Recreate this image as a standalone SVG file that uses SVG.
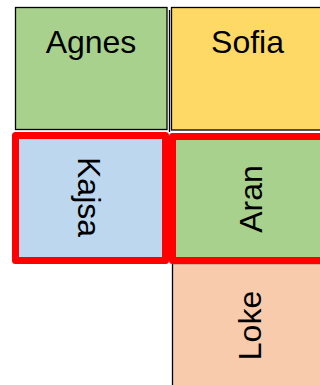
<svg xmlns="http://www.w3.org/2000/svg" width="320" height="385" viewBox="0 0 320 385">
<style>
.box{stroke:#000;stroke-width:1.3}
.sel{stroke:#ff0000;stroke-width:7;stroke-linejoin:round}
.t{font-family:"Liberation Sans",Arial,sans-serif;font-size:32px;fill:#000;text-anchor:middle}
</style>
<rect width="320" height="385" fill="#fff"/>
<g id="grid">
<line x1="169.5" y1="10" x2="169.5" y2="132" stroke="#000" stroke-width="1.3"/>
</g>
<g id="agnes">
<rect class="box" x="15.5" y="7.5" width="151.5" height="122" fill="#a9d18e"/>
<text class="t" x="91" y="53">Agnes</text>
</g>
<g id="sofia">
<rect class="box" x="171.5" y="7.5" width="160" height="122.5" fill="#ffd966"/>
<text class="t" x="247.5" y="53">Sofia</text>
</g>
<g id="loke">
<rect class="box" x="172.5" y="263.5" width="160" height="130" fill="#f8cbad"/>
<text class="t" transform="translate(261,325.5) rotate(-90)" x="0" y="0">Loke</text>
</g>
<g id="kajsa">
<rect class="sel" x="15.5" y="135.5" width="150" height="125" fill="#bdd7ee"/>
<text class="t" transform="translate(78,197) rotate(90)" x="0" y="0" font-size="31">Kajsa</text>
</g>
<g id="aran">
<rect class="sel" x="172.5" y="136.5" width="160" height="124" fill="#a9d18e"/>
<text class="t" transform="translate(262,199) rotate(-90)" x="0" y="0" font-size="33">Aran</text>
</g>
<g id="connectors"></g>
</svg>
